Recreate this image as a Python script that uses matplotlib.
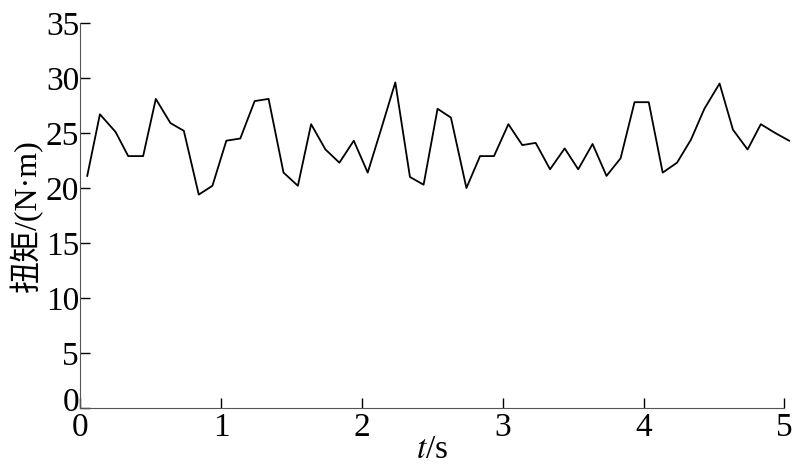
import numpy as np
import matplotlib
matplotlib.use("Agg")
import matplotlib.pyplot as plt
import matplotlib.transforms as mtransforms

# torque samples
t = [0.048, 0.138, 0.249, 0.339, 0.445, 0.535, 0.639, 0.734, 0.840, 0.937,
     1.036, 1.135, 1.237, 1.336, 1.442, 1.544, 1.638, 1.740, 1.839, 1.941,
     2.040, 2.139, 2.236, 2.340, 2.437, 2.536, 2.631, 2.741, 2.838, 2.937,
     3.039, 3.138, 3.233, 3.335, 3.439, 3.535, 3.637, 3.736, 3.836, 3.935,
     4.036, 4.135, 4.237, 4.336, 4.431, 4.539, 4.634, 4.738, 4.832, 4.934,
     5.033]
torque = [21.1, 26.7, 25.1, 22.9, 22.9, 28.1, 25.9, 25.2, 19.4, 20.2,
          24.3, 24.5, 27.9, 28.1, 21.4, 20.2, 25.8, 23.5, 22.3, 24.3,
          21.4, 25.5, 29.6, 21.0, 20.3, 27.2, 26.4, 20.0, 22.9, 22.9,
          25.8, 23.9, 24.1, 21.7, 23.6, 21.7, 24.0, 21.1, 22.7, 27.8,
          27.8, 21.4, 22.3, 24.4, 27.2, 29.5, 25.3, 23.5, 25.8, 25.0,
          24.3]

xticks = [0, 1, 2, 3, 4, 5]
yticks = [0, 5, 10, 15, 20, 25, 30, 35]

plt.rcParams['font.family'] = ['Liberation Serif', 'Noto Sans CJK SC']
plt.rcParams['mathtext.fontset'] = 'stix'

fig = plt.figure(figsize=(8, 4.69), dpi=100)
ax = fig.add_axes([0.1006, 0.130, 0.880, 0.821])

ax.plot(t, torque, color='black', linewidth=1.3, clip_on=False)

ax.set_xlim(0, 5)
ax.set_ylim(0, 35)
ax.set_xticks(xticks)
ax.set_yticks(yticks)
ax.tick_params(direction='in', labelsize=24, length=7, width=1)
ax.tick_params(axis='x', pad=3)
ax.tick_params(axis='y', pad=1)

for side in ['top', 'right']:
    ax.spines[side].set_visible(False)
for side in ['left', 'bottom']:
    ax.spines[side].set_color('#555555')

ax.set_xlabel('$t$/s', fontsize=24, labelpad=-6)
ax.set_ylabel('扭矩/(N·m)', fontsize=23, labelpad=2)

# nudge the y "0" up a little, like in the original, so it clears the x "0"
fig.canvas.draw()
lab0 = ax.get_yticklabels()[0]
lab0.set_transform(lab0.get_transform() +
                   mtransforms.ScaledTranslation(0, 6 / 72, fig.dpi_scale_trans))

fig.savefig('out.png', dpi=100)
